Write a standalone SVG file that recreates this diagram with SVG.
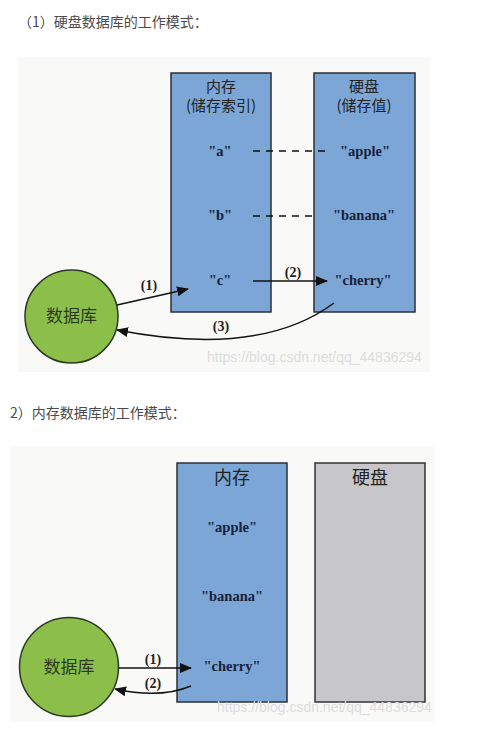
<svg xmlns="http://www.w3.org/2000/svg" width="481" height="741" viewBox="0 0 481 741">
<style>
.title{font-family:"Noto Sans CJK SC","Noto Sans",sans-serif;font-size:14px;fill:#4a4a4a}
.panel{fill:#f9f9f8}
.box{fill:#7ca6d6;stroke:#2b2f36;stroke-width:1.5}
.gbox{fill:#c7c7c9;stroke:#333;stroke-width:1.5}
.hdr{font-family:"Noto Sans CJK SC","Noto Sans",sans-serif;font-size:15px;fill:#222;text-anchor:middle}
.val{font-family:"Liberation Serif",serif;font-weight:bold;font-size:14.5px;fill:#16213a;text-anchor:middle}
.lbl{font-family:"Liberation Serif",serif;font-weight:bold;font-size:14px;fill:#222;text-anchor:middle}
.db{fill:#8cbf4a;stroke:#2a3a22;stroke-width:1.5}
.dbt{font-family:"Noto Sans CJK SC","Noto Sans",sans-serif;font-size:17px;fill:#2b3a1f;text-anchor:middle}
.edge{fill:none;stroke:#111;stroke-width:1.5}
.dash{fill:none;stroke:#111;stroke-width:1.5;stroke-dasharray:7,6}
.wm{font-family:"Liberation Sans",Arial,sans-serif;font-size:14px;fill:#dcdcdc}
</style>
<defs>
<marker id="ah" viewBox="0 0 12 10" refX="11" refY="5" markerWidth="12" markerHeight="10" markerUnits="userSpaceOnUse" orient="auto">
<path d="M0,0 L12,5 L0,10 Z" fill="#111"/>
</marker>
</defs>
<rect width="481" height="741" fill="#fff"/>
<text class="title" x="18" y="27">（1）硬盘数据库的工作模式：</text>
<rect class="panel" x="18" y="57" width="412" height="315"/>
<g id="mem1">
<rect class="box" x="171" y="73" width="100" height="239"/>
<text class="hdr" x="221" y="92">内存</text>
<text class="hdr" x="221" y="111">(储存索引)</text>
<text class="val" x="220" y="156">"a"</text>
<text class="val" x="220" y="220">"b"</text>
<text class="val" x="220" y="285">"c"</text>
</g>
<g id="disk1">
<rect class="box" x="314" y="73" width="101" height="239"/>
<text class="hdr" x="364" y="92">硬盘</text>
<text class="hdr" x="364" y="111">(储存值)</text>
<text class="val" x="365" y="156">"apple"</text>
<text class="val" x="364" y="220">"banana"</text>
<text class="val" x="363" y="285">"cherry"</text>
</g>
<g id="db1">
<circle class="db" cx="71.5" cy="316.5" r="46.5"/>
<text class="dbt" x="71.5" y="322">数据库</text>
</g>
<g id="edges1">
<path class="dash" d="M253,151 L330,151"/>
<path class="dash" d="M253,216 L315,216"/>
<path class="edge" d="M117,305 L188,289" marker-end="url(#ah)"/>
<path class="edge" d="M253,281 L327,281" marker-end="url(#ah)"/>
<path class="edge" d="M334,303 Q260,358 117,330" marker-end="url(#ah)"/>
<text class="lbl" x="149" y="290">(1)</text>
<text class="lbl" x="293" y="277">(2)</text>
<text class="lbl" x="221" y="331">(3)</text>
</g>
<text class="wm" x="207" y="362">https://blog.csdn.net/qq_44836294</text>
<text class="title" x="10" y="418">2）内存数据库的工作模式：</text>
<rect class="panel" x="10" y="446" width="425" height="276"/>
<g id="mem2">
<rect class="box" x="177" y="463" width="110" height="239"/>
<text class="hdr" x="232" y="484" style="font-size:18px">内存</text>
<text class="val" x="232" y="532">"apple"</text>
<text class="val" x="232" y="601">"banana"</text>
<text class="val" x="232" y="671">"cherry"</text>
</g>
<g id="disk2">
<rect class="gbox" x="315" y="463" width="110" height="239"/>
<text class="hdr" x="370" y="484" style="font-size:18px">硬盘</text>
</g>
<g id="db2">
<circle class="db" cx="69" cy="667" r="49.5"/>
<text class="dbt" x="69" y="673">数据库</text>
</g>
<g id="edges2">
<path class="edge" d="M119,668 L191,668" marker-end="url(#ah)"/>
<path class="edge" d="M191,686 Q160,699 115,689" marker-end="url(#ah)"/>
<text class="lbl" x="153" y="664">(1)</text>
<text class="lbl" x="153" y="688">(2)</text>
</g>
<text class="wm" x="217" y="712">https://blog.csdn.net/qq_44836294</text>
</svg>
